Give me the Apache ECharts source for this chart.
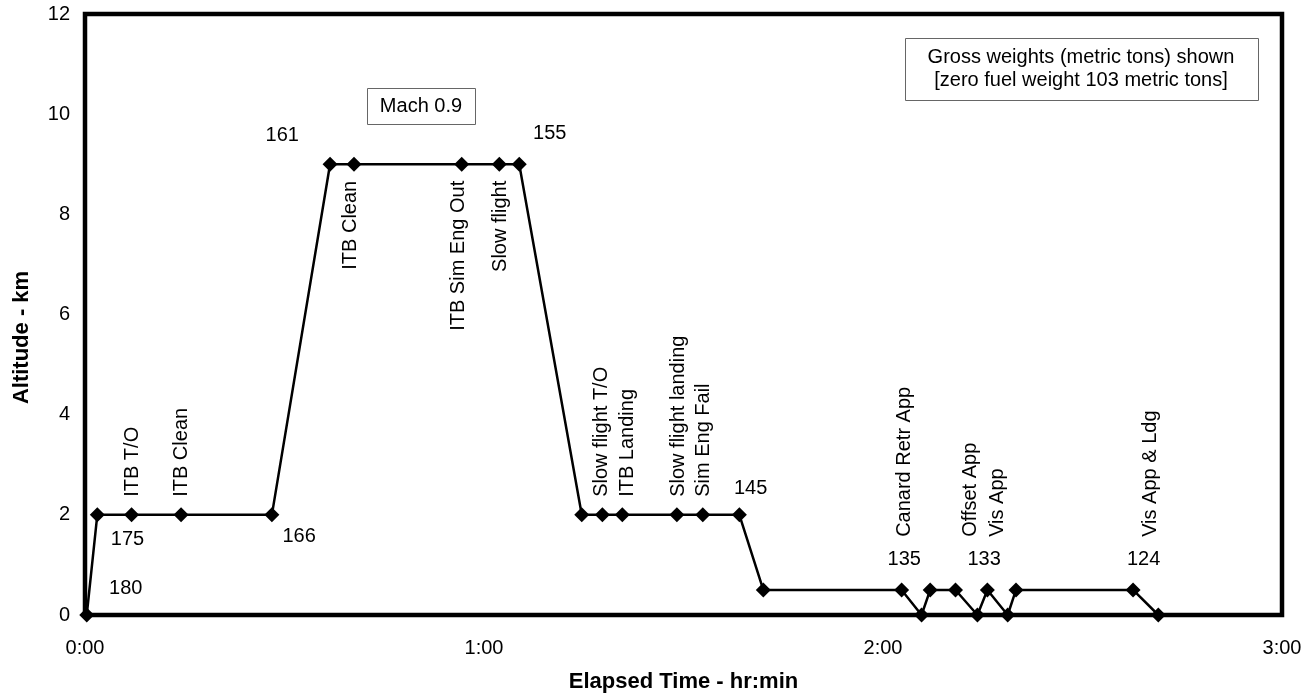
<!DOCTYPE html>
<html>
<head>
<meta charset="utf-8">
<script src="https://cdn.jsdelivr.net/npm/echarts@6/dist/echarts.min.js"></script>
<style>html,body{margin:0;padding:0;background:#fff}#c{width:1310px;height:698px}</style>
</head>
<body>
<div id="c"></div>
<script>
// Flight profile: elapsed minutes and altitude (km)
var timeMin = [0.26, 1.85, 7.0, 14.45, 28.1, 36.85, 40.45, 56.65, 62.3, 65.3, 74.7, 77.8, 80.8, 89.0, 92.9, 98.4, 102.0, 122.8, 125.8, 127.1, 130.9, 134.2, 135.7, 138.75, 140.0, 157.6, 161.4];
var altKm   = [0,    2,    2,   2,     2,    9,     9,     9,     9,    9,    2,    2,    2,    2,    2,    2,    0.5,   0.5,   0,     0.5,   0.5,   0,     0.5,   0,      0.5,   0.5,   0];

var xTickLabels = ['0:00', '1:00', '2:00', '3:00'];

// Event annotations: [minutes, km, text]
var eventsUp   = [[7.1, 2.36, 'ITB T/O'], [14.55, 2.36, 'ITB Clean'], [77.7, 2.36, 'Slow flight T/O'], [81.65, 2.36, 'ITB Landing'],
                  [89.3, 2.36, 'Slow flight landing'], [93.0, 2.36, 'Sim Eng Fail'],
                  [123.3, 1.56, 'Canard Retr App'], [133.1, 1.56, 'Offset App'], [137.2, 1.56, 'Vis App'], [160.2, 1.56, 'Vis App & Ldg']];
var eventsDown = [[39.85, 8.67, 'ITB Clean'], [56.2, 8.67, 'ITB Sim Eng Out'], [62.5, 8.67, 'Slow flight']];
// Gross weights (metric tons): [minutes, km, text]
var weights = [[6.12, 0.53, '180'], [6.39, 1.51, '175'], [32.2, 1.56, '166'], [29.67, 9.58, '161'], [69.88, 9.62, '155'],
               [100.1, 2.53, '145'], [123.2, 1.10, '135'], [135.2, 1.10, '133'], [159.2, 1.10, '124']];

var FONT = '"Liberation Sans", Arial, Helvetica, sans-serif';
var pts = timeMin.map(function (t, i) { return [t, altKm[i]]; });

var chart = echarts.init(document.getElementById('c'), null, {renderer: 'canvas'});
var labelSeries = function (data, label) {
  return {
    type: 'scatter', data: data, symbolSize: 0, silent: true, z: 5,
    itemStyle: {color: '#000', opacity: 1},
    label: Object.assign({show: true, color: '#000', opacity: 1, textBorderWidth: 0, textBorderColor: 'transparent',
      fontFamily: FONT, fontSize: 20,
      formatter: function (p) { return p.data[2]; }}, label)
  };
};
chart.setOption({
  animation: false,
  backgroundColor: '#fff',
  grid: {left: 85, right: 28, top: 14, bottom: 83, show: true, borderColor: '#000', borderWidth: 4.5, backgroundColor: 'transparent'},
  xAxis: {
    type: 'value', min: 0, max: 180, interval: 60,
    name: 'Elapsed Time - hr:min', nameLocation: 'middle', nameGap: 56,
    nameTextStyle: {fontFamily: FONT, fontSize: 22, fontWeight: 'bold', color: '#000'},
    axisLine: {show: false}, axisTick: {show: false}, splitLine: {show: false},
    axisLabel: {margin: 23, color: '#000', fontFamily: FONT, fontSize: 20,
      formatter: function (v) { return xTickLabels[Math.round(v / 60)]; }}
  },
  yAxis: {
    type: 'value', min: 0, max: 12, interval: 2,
    name: 'Altitude - km', nameLocation: 'middle', nameGap: 52,
    nameTextStyle: {fontFamily: FONT, fontSize: 22, fontWeight: 'bold', color: '#000', padding: [0, 46, 0, 0]},
    axisLine: {show: false}, axisTick: {show: false}, splitLine: {show: false},
    axisLabel: {margin: 15, color: '#000', fontFamily: FONT, fontSize: 20}
  },
  series: [
    {
      type: 'line', data: pts, symbol: 'diamond', symbolSize: 15, showSymbol: true, silent: true, z: 3,
      lineStyle: {color: '#000', width: 2.5}, itemStyle: {color: '#000'}
    },
    labelSeries(eventsUp, {position: [0, 0], rotate: 90, align: 'left', verticalAlign: 'middle'}),
    labelSeries(eventsDown, {position: [0, 0], rotate: 90, align: 'right', verticalAlign: 'middle'}),
    labelSeries(weights, {position: [0, 0], align: 'center', verticalAlign: 'middle'})
  ],
  graphic: [
    {type: 'rect', shape: {x: 367.5, y: 88.5, width: 108, height: 36}, style: {fill: '#fff', stroke: '#666', lineWidth: 1}, z: 10},
    {type: 'text', x: 421, y: 106, style: {text: 'Mach 0.9', font: '20px ' + FONT, fill: '#000', align: 'center', verticalAlign: 'middle'}, z: 11},
    {type: 'rect', shape: {x: 905.5, y: 38.5, width: 353, height: 62}, style: {fill: '#fff', stroke: '#666', lineWidth: 1}, z: 10},
    {type: 'text', x: 1081, y: 69, style: {text: 'Gross weights (metric tons) shown\n[zero fuel weight 103 metric tons]', font: '20px ' + FONT, lineHeight: 23, fill: '#000', align: 'center', verticalAlign: 'middle'}, z: 11}
  ]
});
</script>
</body>
</html>
